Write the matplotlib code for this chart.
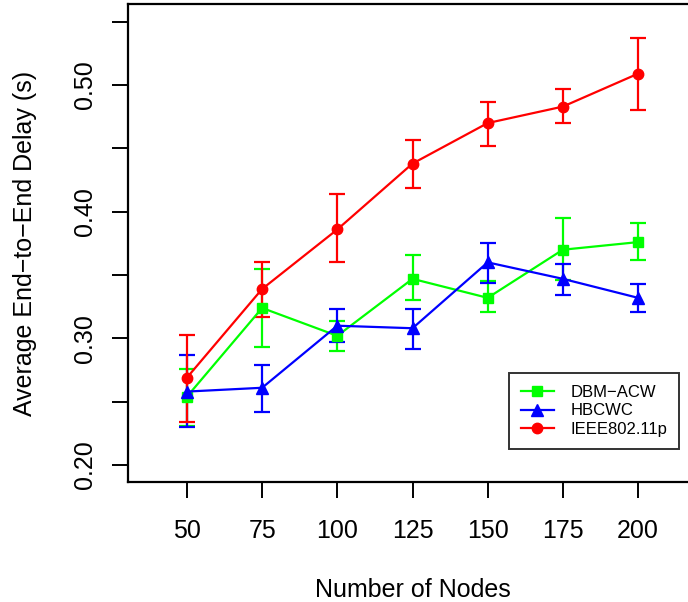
import numpy as np
import matplotlib
matplotlib.use("Agg")
import matplotlib.pyplot as plt
from matplotlib.lines import Line2D

plt.rcParams['font.family'] = ['Liberation Sans', 'DejaVu Sans']

nodes = [50, 75, 100, 125, 150, 175, 200]

# DBM-ACW
dbm_mean = [0.254, 0.324, 0.302, 0.347, 0.332, 0.370, 0.376]
dbm_low = [0.231, 0.293, 0.290, 0.330, 0.321, 0.346, 0.362]
dbm_high = [0.276, 0.355, 0.314, 0.366, 0.345, 0.395, 0.391]

# HBCWC
hb_mean = [0.258, 0.261, 0.310, 0.308, 0.360, 0.347, 0.332]
hb_low = [0.230, 0.242, 0.297, 0.292, 0.344, 0.334, 0.321]
hb_high = [0.287, 0.279, 0.323, 0.323, 0.375, 0.359, 0.343]

# IEEE802.11p
ieee_mean = [0.269, 0.339, 0.386, 0.438, 0.470, 0.483, 0.509]
ieee_low = [0.234, 0.317, 0.360, 0.419, 0.452, 0.470, 0.480]
ieee_high = [0.303, 0.360, 0.414, 0.457, 0.487, 0.497, 0.537]

series = [
    ("DBM\u2212ACW", dbm_mean, dbm_low, dbm_high, "#00FF00", "s", 6.5),
    ("HBCWC", hb_mean, hb_low, hb_high, "#0000FF", "^", 8.5),
    ("IEEE802.11p", ieee_mean, ieee_low, ieee_high, "#FF0000", "o", 7.5),
]

fig = plt.figure(figsize=(6.88, 6.02), dpi=100)
# right edge runs past the figure, like the cropped original
ax = fig.add_axes([128 / 688, 1 - 482 / 602, (697 - 128) / 688, (482 - 4) / 602])

handles = []
for name, m, lo, hi, col, mk, ms in series:
    m = np.array(m)
    err = [m - np.array(lo), np.array(hi) - m]
    ax.errorbar(nodes, m, yerr=err, color=col, marker=mk, markersize=ms,
                linewidth=1.6, elinewidth=1.6, capsize=6, capthick=1.6)
    handles.append(Line2D([], [], color=col, marker=mk, markersize=ms,
                          linewidth=1.6, label=name))

ax.set_xlim(30.4, 219.6)
ax.set_ylim(0.1866, 0.564)
ax.set_xticks(nodes)
ax.set_yticks([0.20, 0.25, 0.30, 0.35, 0.40, 0.45, 0.50, 0.55])
ax.set_yticklabels(["0.20", "", "0.30", "", "0.40", "", "0.50", ""],
                   rotation=90, va="center")

for s in ax.spines.values():
    s.set_linewidth(1.6)

ax.tick_params(axis="x", length=11.5, width=1.4, pad=15, labelsize=18)
ax.tick_params(axis="y", length=11.5, width=1.4, pad=11, labelsize=18)

ax.set_xlabel("Number of Nodes", fontsize=18, labelpad=25)
ax.set_ylabel("Average End\u2212to\u2212End Delay (s)", fontsize=18, labelpad=26)

leg = ax.legend(handles=handles, loc="upper left",
                bbox_to_anchor=((509 - 128) / 569, (482 - 373) / 478),
                fontsize=12, frameon=True, fancybox=False, edgecolor="black",
                handlelength=2.0, handletextpad=1.0, labelspacing=0.22,
                borderpad=0.7, borderaxespad=0)
leg.get_frame().set_linewidth(1.4)

fig.savefig("out.png", dpi=100)
